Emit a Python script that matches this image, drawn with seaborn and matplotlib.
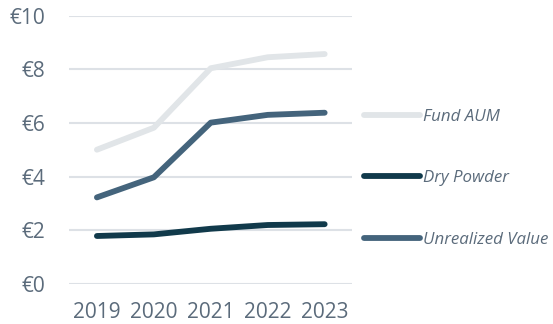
import matplotlib
matplotlib.use("Agg")
import matplotlib.pyplot as plt
import seaborn as sns
import pandas as pd

years = ["2019", "2020", "2021", "2022", "2023"]
fund_aum = [5.0, 5.82, 8.04, 8.45, 8.57]
dry_powder = [1.78, 1.84, 2.05, 2.19, 2.22]
unrealized_value = [3.22, 3.97, 6.01, 6.30, 6.38]
series_names = ["Fund AUM", "Dry Powder", "Unrealized Value"]
y_ticks = [0, 2, 4, 6, 8, 10]

df = pd.DataFrame({
    "year": years * 3,
    "value": fund_aum + dry_powder + unrealized_value,
    "series": [series_names[0]] * 5 + [series_names[1]] * 5 + [series_names[2]] * 5,
})

sns.set_theme(style="white")
plt.rcParams["font.family"] = ["Open Sans", "DejaVu Sans"]

palette = {"Fund AUM": "#e1e5e8", "Dry Powder": "#113a4b", "Unrealized Value": "#44647c"}
text_color = "#5b6b7b"

fig = plt.figure(figsize=(5.53, 3.24), dpi=100)
ax = fig.add_axes([0.1248, 0.1244, 0.5117, 0.8271])

sns.lineplot(data=df, x="year", y="value", hue="series", hue_order=series_names,
             palette=palette, linewidth=4.2, ax=ax, sort=False,
             solid_capstyle="round")

ax.set_xlim(-0.49, 4.48)
ax.set_ylim(0, 10)
ax.set_yticks(y_ticks)
ax.set_yticklabels([f"€{v}" for v in y_ticks])
ax.yaxis.grid(True, color="#dde1e6", linewidth=1.5)
ax.xaxis.grid(False)
ax.set_axisbelow(True)
for s in ax.spines.values():
    s.set_visible(False)
ax.tick_params(axis="both", length=0, labelsize=15, colors=text_color)
ax.tick_params(axis="y", pad=17)
ax.tick_params(axis="x", pad=13)
ax.set_xlabel("")
ax.set_ylabel("")

handles, labels = ax.get_legend_handles_labels()
for h in handles:
    h.set_solid_capstyle("round")
leg = ax.legend(handles, labels, loc="upper left", bbox_to_anchor=(1.02, 0.677),
                frameon=False, fontsize=12.2, handlelength=3.3, handletextpad=0.15,
                labelspacing=2.67, borderaxespad=0)
for t in leg.get_texts():
    t.set_color(text_color)
    t.set_fontstyle("italic")

fig.savefig("out.png", dpi=100)
